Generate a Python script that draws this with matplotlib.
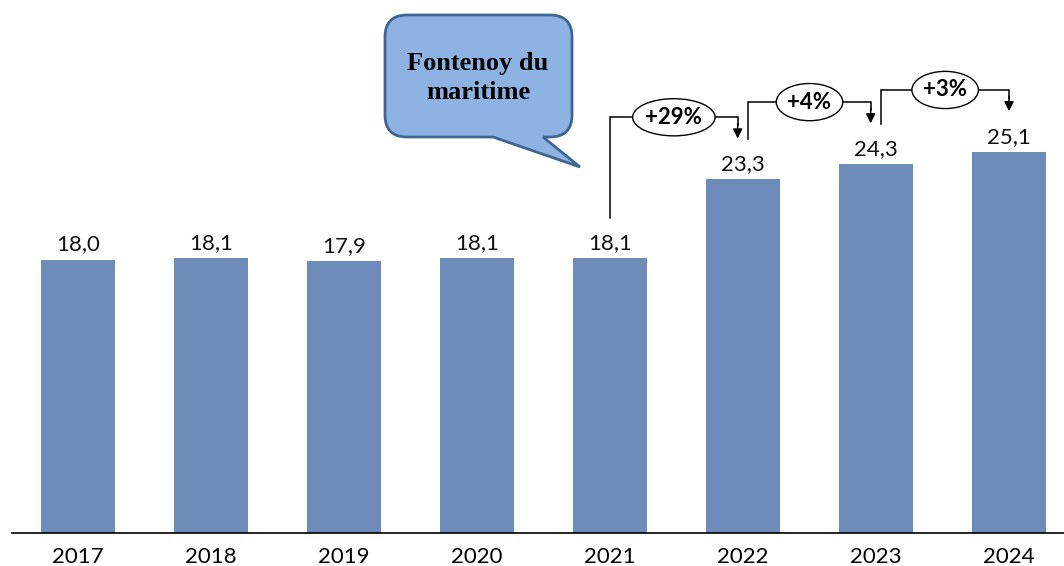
import matplotlib
matplotlib.use("Agg")
import matplotlib.pyplot as plt
from matplotlib.patches import Ellipse, PathPatch
from matplotlib.path import Path

years = ["2017", "2018", "2019", "2020", "2021", "2022", "2023", "2024"]
values = [18.0, 18.1, 17.9, 18.1, 18.1, 23.3, 24.3, 25.1]
# growth steps: (from index, to index, label)
steps = [(4, 5, "+29%"), (5, 6, "+4%"), (6, 7, "+3%")]
callout_lines = ["Fontenoy du", "maritime"]

BAR = "#6d8cb9"
W, H = 1064, 566

fig = plt.figure(figsize=(W / 100, H / 100), dpi=100)
# axes spanning eight equal slots; the last slot runs past the right edge
ax = fig.add_axes([11.5 / W, 33 / H, 1064 / W, 533 / H])
x = list(range(len(years)))
ax.bar(x, values, width=0.56, color=BAR, zorder=2)
ax.set_xlim(-0.5, 7.5)
ax.set_ylim(0, 35.13)
for s in ["top", "right", "left"]:
    ax.spines[s].set_visible(False)
ax.spines["bottom"].set_color("black")
ax.spines["bottom"].set_linewidth(1.2)
ax.set_yticks([])
ax.set_xticks(x)
ax.set_xticklabels(years, fontsize=16, family="Lato")
ax.tick_params(axis="x", length=0, pad=10)

for xi, v in zip(x, values):
    ax.annotate(f"{v:.1f}".replace(".", ","), (xi, v), xytext=(0, 4),
                textcoords="offset points", ha="center", va="bottom",
                fontsize=16, family="Lato", color="#111111")

# growth connectors: up from one bar, across through an oval label, down to the next
for i, j, lab in steps:
    x0 = i + (0.0 if i == 4 else 0.04)
    x1 = j - 0.04 if j != 7 else j
    y0 = values[i] + 2.65
    yh = values[j] + 4.1
    y1 = values[j] + 2.7
    ax.plot([x0, x0, x1, x1], [y0, yh, yh, y1 + 0.9], color="black", lw=1.1,
            zorder=3, solid_joinstyle="miter")
    ax.annotate("", xy=(x1, y1), xytext=(x1, y1 + 1.0),
                arrowprops=dict(arrowstyle="-|>", color="black", lw=1.1,
                                mutation_scale=14, shrinkA=0, shrinkB=0),
                zorder=3)
    xm = (x0 + x1) / 2
    ew = 0.62 if lab == "+29%" else 0.5
    ax.add_patch(Ellipse((xm, yh), ew, 2.45, facecolor="white",
                         edgecolor="black", lw=1.0, zorder=4))
    ax.text(xm, yh, lab, ha="center", va="center", fontsize=16,
            fontweight="bold", family="Lato", zorder=5)

# speech bubble
def fp(px, py):
    return (px / W, 1 - py / H)

L, R, T, B, r = 385, 572, 15, 137, 22
pts = [
    ((L + r, T), Path.MOVETO),
    ((R - r, T), Path.LINETO),
    ((R, T), Path.CURVE3), ((R, T + r), Path.CURVE3),
    ((R, B - r), Path.LINETO),
    ((R, B), Path.CURVE3), ((R - r, B), Path.CURVE3),
    ((543, B), Path.LINETO),
    ((580, 167), Path.LINETO),
    ((493, B), Path.LINETO),
    ((L + r, B), Path.LINETO),
    ((L, B), Path.CURVE3), ((L, B - r), Path.CURVE3),
    ((L, T + r), Path.LINETO),
    ((L, T), Path.CURVE3), ((L + r, T), Path.CURVE3),
    ((L + r, T), Path.CLOSEPOLY),
]
verts = [fp(*p) for p, _ in pts]
codes = [c for _, c in pts]
bubble = PathPatch(Path(verts, codes), facecolor="#8db3e2", edgecolor="#3f6592",
                   lw=2.0, transform=fig.transFigure, zorder=6)
fig.patches.append(bubble)
fig.text(478 / W, 1 - 78 / H, "\n".join(callout_lines), ha="center", va="center",
         fontsize=19, fontweight="bold", family="Liberation Serif",
         linespacing=1.3, color="black", zorder=7)

fig.savefig("out.png", dpi=100)
